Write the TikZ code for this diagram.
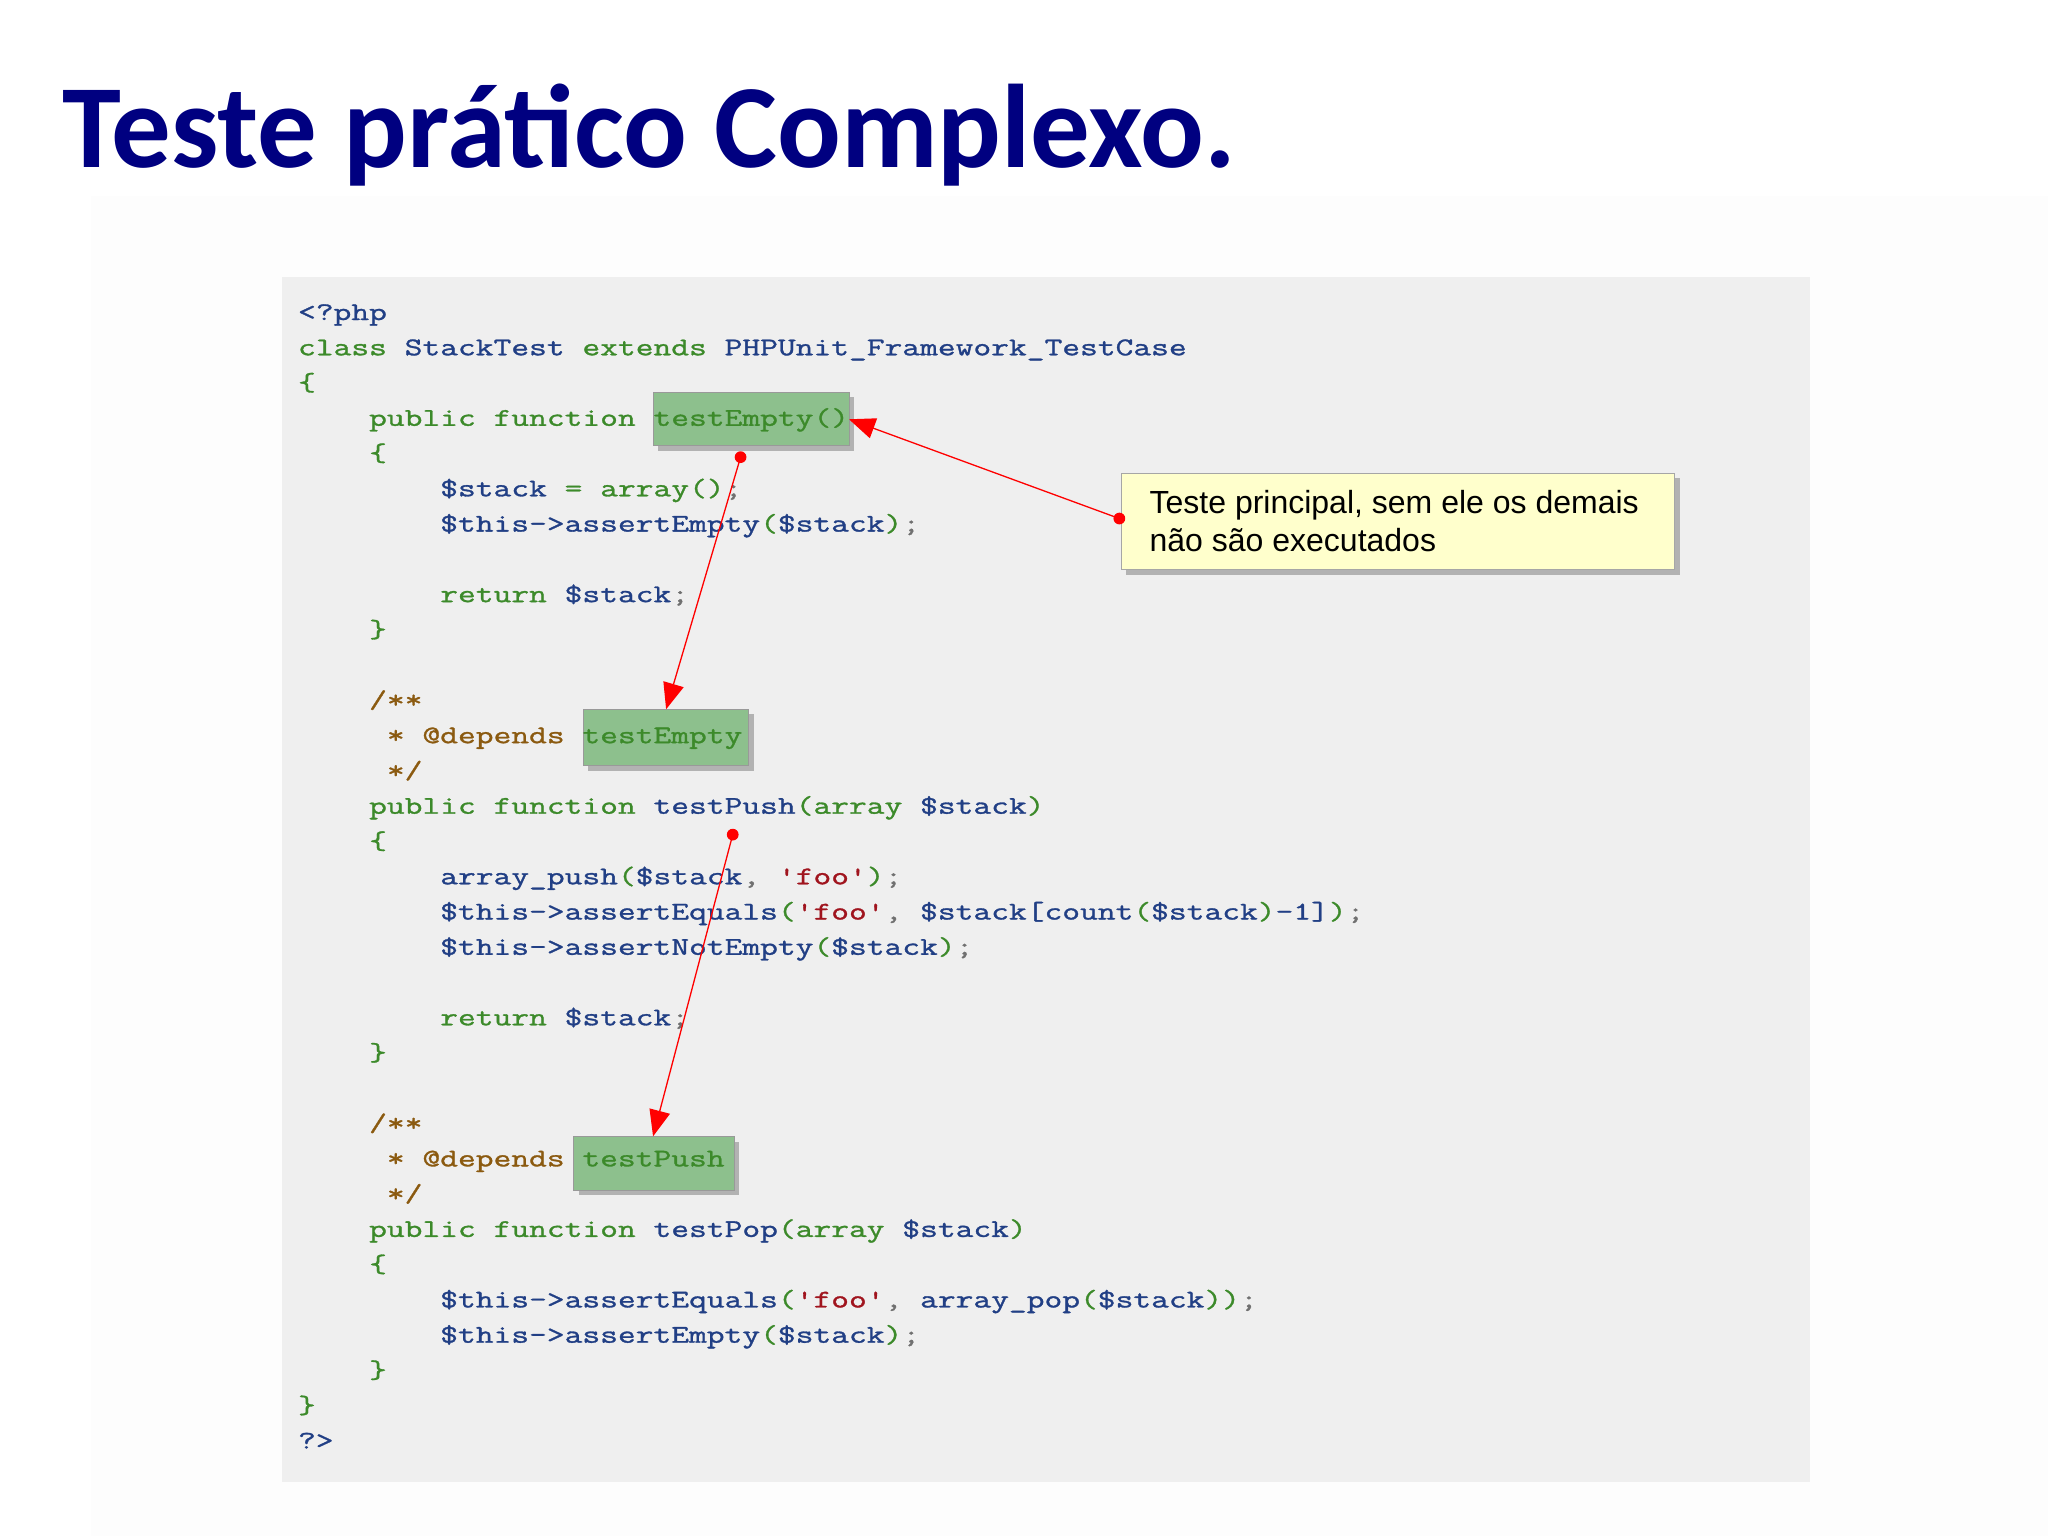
\documentclass[tikz,border=0pt]{standalone}
\usepackage{fontspec}
\setmainfont{Liberation Sans}
\newfontfamily\titlefont{Carlito}
\newfontfamily\codefont[FakeStretch=1.355,FakeBold=1.2]{Latin Modern Mono}
\usetikzlibrary{arrows.meta}
\definecolor{kwc}{HTML}{3C8A2A}
\definecolor{idc}{HTML}{213F85}
\definecolor{cmc}{HTML}{8B5A10}
\definecolor{stc}{HTML}{A0141E}
\definecolor{puc}{HTML}{707070}
\definecolor{navy}{HTML}{000080}
\definecolor{codebg}{HTML}{EFEFEF}
\definecolor{hl}{HTML}{8DC08D}
\definecolor{note}{HTML}{FFFFCC}
\newcommand\kw[1]{\textcolor{kwc}{#1}}
\newcommand\idt[1]{\textcolor{idc}{#1}}
\newcommand\cmt[1]{\textcolor{cmc}{#1}}
\newcommand\stt[1]{\textcolor{stc}{#1}}
\newcommand\pu[1]{\textcolor{puc}{#1}}
\tikzset{
  codeline/.style={anchor=base west,inner sep=0pt,font=\codefont\fontsize{19.5}{20}\selectfont},
  hlbox/.style={fill=hl,draw=gray!80},
  shadowbox/.style={fill=gray!60},
  link/.style={draw=red,line width=1pt,-{Triangle[length=20pt,width=16pt,fill=red]}},
  dot/.style={circle,fill=red,inner sep=0pt,minimum size=9pt}
}
\begin{document}
\begin{tikzpicture}[x=1pt,y=-1pt]
\useasboundingbox (0,0) rectangle (1568,1176);
\fill[white] (0,0) rectangle (1568,1176);
\fill[gray!1.5] (70,150) rectangle (1568,1176);
% title
\node[anchor=base west,inner sep=0pt,text=navy,font=\titlefont\bfseries\fontsize{91}{96}\selectfont] (title) at (48,128) {Teste prático Complexo.};
% code background
\fill[codebg] (216,212) rectangle (1386,1135);
% highlight boxes
\fill[shadowbox] (504,304) rectangle (654,345);
\node[hlbox,anchor=north west,minimum width=150pt,minimum height=41pt,inner sep=0pt] (b1) at (500,300) {};
\fill[shadowbox] (450,547) rectangle (577,590);
\node[hlbox,anchor=north west,minimum width=127pt,minimum height=43pt,inner sep=0pt] (b2) at (446,543) {};
\fill[shadowbox] (443,874) rectangle (566,915);
\node[hlbox,anchor=north west,minimum width=123pt,minimum height=41pt,inner sep=0pt] (b3) at (439,870) {};
% code lines
\node[codeline] (l1) at (228,245) {\idt{<?php}};
\node[codeline] (l2) at (228,272) {\kw{class} \idt{StackTest} \kw{extends} \idt{PHPUnit\_Framework\_TestCase}};
\node[codeline] (l3) at (228,299) {\kw{\{}};
\node[codeline] (l4) at (228,326) {\hphantom{xxxx}\kw{public function} \kw{testEmpty()}};
\node[codeline] (l5) at (228,353) {\hphantom{xxxx}\kw{\{}};
\node[codeline] (l6) at (228,380) {\hphantom{xxxxxxxx}\idt{\$stack} \kw{=} \kw{array()}\pu{;}};
\node[codeline] (l7) at (228,407) {\hphantom{xxxxxxxx}\idt{\$this->assertEmpty}\kw{(}\idt{\$stack}\kw{)}\pu{;}};
\node[codeline] (l9) at (228,461) {\hphantom{xxxxxxxx}\kw{return} \idt{\$stack}\pu{;}};
\node[codeline] (l10) at (228,488) {\hphantom{xxxx}\kw{\}}};
\node[codeline] (l12) at (228,542) {\hphantom{xxxx}\cmt{/**}};
\node[codeline] (l13) at (228,569) {\hphantom{xxxxx}\cmt{* @depends} \kw{testEmpty}};
\node[codeline] (l14) at (228,596) {\hphantom{xxxxx}\cmt{*/}};
\node[codeline] (l15) at (228,623) {\hphantom{xxxx}\kw{public function} \idt{testPush}\kw{(array} \idt{\$stack}\kw{)}};
\node[codeline] (l16) at (228,650) {\hphantom{xxxx}\kw{\{}};
\node[codeline] (l17) at (228,677) {\hphantom{xxxxxxxx}\idt{array\_push}\kw{(}\idt{\$stack}\pu{,} \stt{'foo'}\kw{)}\pu{;}};
\node[codeline] (l18) at (228,704) {\hphantom{xxxxxxxx}\idt{\$this->assertEquals}\kw{(}\stt{'foo'}\pu{,} \idt{\$stack[count}\kw{(}\idt{\$stack}\kw{)}\idt{-1]}\kw{)}\pu{;}};
\node[codeline] (l19) at (228,731) {\hphantom{xxxxxxxx}\idt{\$this->assertNotEmpty}\kw{(}\idt{\$stack}\kw{)}\pu{;}};
\node[codeline] (l21) at (228,785) {\hphantom{xxxxxxxx}\kw{return} \idt{\$stack}\pu{;}};
\node[codeline] (l22) at (228,812) {\hphantom{xxxx}\kw{\}}};
\node[codeline] (l24) at (228,866) {\hphantom{xxxx}\cmt{/**}};
\node[codeline] (l25) at (228,893) {\hphantom{xxxxx}\cmt{* @depends} \kw{testPush}};
\node[codeline] (l26) at (228,920) {\hphantom{xxxxx}\cmt{*/}};
\node[codeline] (l27) at (228,947) {\hphantom{xxxx}\kw{public function} \idt{testPop}\kw{(array} \idt{\$stack}\kw{)}};
\node[codeline] (l28) at (228,974) {\hphantom{xxxx}\kw{\{}};
\node[codeline] (l29) at (228,1001) {\hphantom{xxxxxxxx}\idt{\$this->assertEquals}\kw{(}\stt{'foo'}\pu{,} \idt{array\_pop}\kw{(}\idt{\$stack}\kw{))}\pu{;}};
\node[codeline] (l30) at (228,1028) {\hphantom{xxxxxxxx}\idt{\$this->assertEmpty}\kw{(}\idt{\$stack}\kw{)}\pu{;}};
\node[codeline] (l31) at (228,1055) {\hphantom{xxxx}\kw{\}}};
\node[codeline] (l32) at (228,1082) {\kw{\}}};
\node[codeline] (l33) at (228,1109) {\idt{?>}};
% callout
\fill[shadowbox] (862,366) rectangle (1286,440);
\node[fill=note,draw=gray!70,anchor=north west,minimum width=424pt,minimum height=74pt,inner sep=0pt] (note) at (858,362) {};
\node[anchor=west,align=left,inner sep=0pt,font=\fontsize{24.5}{28.5}\selectfont] (notetext) at (880,399) {Teste principal, sem ele os demais\\não são executados};
% connectors
\node[dot] (d1) at (857,397) {};
\node[dot] (d2) at (567,350) {};
\node[dot] (d3) at (561,639) {};
\coordinate (t1) at (650,321);
\coordinate (t2) at (510,543);
\coordinate (t3) at (500,870);
\draw[link] (d1.center) -- (t1);
\draw[link] (d2.center) -- (t2);
\draw[link] (d3.center) -- (t3);
\end{tikzpicture}
\end{document}
